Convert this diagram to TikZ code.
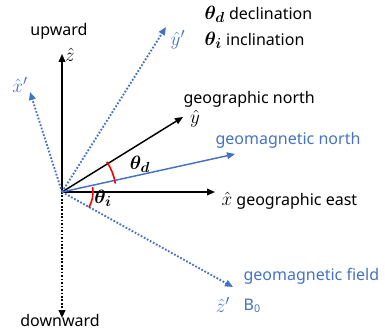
\documentclass[tikz,border=0pt]{standalone}
\usepackage{amsmath,amssymb}
\usepackage{fontspec}
\setmainfont{Noto Sans}
\usepackage{xcolor}
\usetikzlibrary{arrows.meta,calc}
\definecolor{magblue}{RGB}{68,114,196}
\newcommand{\bigmath}[1]{{\fontsize{15}{17}\selectfont$#1$}}
\tikzset{
  axis/.style={line width=1.1pt, -{Triangle[length=6pt,width=5pt]}},
  magaxis/.style={axis, magblue, line width=1.4pt, dash pattern=on 1.3pt off 1.3pt},
  txt/.style={font=\fontsize{12}{14}\selectfont, inner sep=1pt},
  mth/.style={font=\fontsize{15}{17}\selectfont, inner sep=0pt},
  arcmark/.style={red, line width=1.2pt}
}

\begin{document}
\begin{tikzpicture}[x=0.75pt,y=-0.75pt]
\useasboundingbox (0,0) rectangle (385,335);

\coordinate (O) at (62,192);
\coordinate (zt) at (62,54);
\coordinate (dt) at (62,318);
\coordinate (xt) at (215,192);
\coordinate (yt) at (183,117);
\coordinate (mt) at (235,154);
\coordinate (xpt) at (30,92);
\coordinate (ypt) at (166,27);
\coordinate (zpt) at (233,287);

% geographic frame
\draw[axis] (O) -- (zt);
\draw[axis] (O) -- (xt);
\draw[axis] (O) -- (yt);
\draw[axis, line width=1.4pt, dash pattern=on 1.3pt off 1.3pt] (O) -- (dt);

% geomagnetic frame
\draw[magaxis] (O) -- (xpt);
\draw[magaxis] (O) -- (ypt);
\draw[magaxis] (O) -- (zpt);
\draw[axis, magblue] (O) -- (mt);

% angles
\draw[arcmark] ($(O)+(-9:54)$) arc[start angle=-9, end angle=-34, radius=54];
\draw[arcmark] ($(O)+(-9:31)$) arc[start angle=-9, end angle=30, radius=31];
\node[mth] (thd) at (140,164) {$\boldsymbol{\theta_d}$};
\node[mth] (thi) at (103,198) {$\boldsymbol{\theta_i}$};

% labels
\node[txt] (up) at (59,31) {upward};
\node[mth] (zh) at (70,55) {$\hat{z}$};
\node[txt] (down) at (60,320) {downward};
\node[txt, anchor=west] (east) at (220,201) {\bigmath{\hat{x}} geographic east};
\node[txt, anchor=west] (north) at (182,99) {geographic north};
\node[mth] (yh) at (195,119) {$\hat{y}$};
\node[txt, magblue, anchor=west] (mnorth) at (214,140) {geomagnetic north};
\node[mth, magblue] (xp) at (20,85) {$\hat{x}'$};
\node[mth, magblue] (yp) at (178,40) {$\hat{y}'$};
\node[mth, magblue] (zp) at (223,305) {$\hat{z}'$};
\node[txt, magblue, anchor=west] (field) at (242,276) {geomagnetic field};
\node[txt, magblue, anchor=west] (bzero) at (242,306) {B\textsubscript{0}};

% legend
\node[txt, anchor=west] (leg1) at (203,14) {\bigmath{\boldsymbol{\theta_d}} declination};
\node[txt, anchor=west] (leg2) at (203,40) {\bigmath{\boldsymbol{\theta_i}} inclination};
\end{tikzpicture}
\end{document}
